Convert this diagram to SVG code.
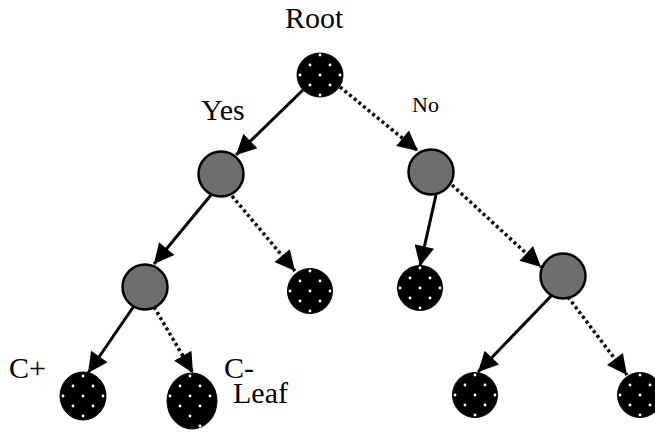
<svg xmlns="http://www.w3.org/2000/svg" xmlns:xlink="http://www.w3.org/1999/xlink" width="655" height="433" viewBox="0 0 655 433">
<style>
.lbl{font-family:"Liberation Serif","Times New Roman",serif;fill:#000}
.big{font-size:30px}
.small{font-size:22px}
.inner{fill:#6e6e6e;stroke:#000;stroke-width:2.5}
.leaf{fill:#000;stroke:#000;stroke-width:1}
.dot{fill:#fff}
.solid{stroke:#000;stroke-width:3;fill:none}
.dotted{stroke:#000;stroke-width:3.5;fill:none;stroke-dasharray:3 3}
</style>
<defs>
<marker id="ah" viewBox="0 0 10 10" refX="10" refY="5" markerUnits="userSpaceOnUse" markerWidth="22" markerHeight="20" orient="auto">
<path d="M0,0 L10,5 L0,10 Z" fill="#000"/>
</marker>
<g id="dots">
<circle class="dot" cx="0" cy="-20" r="1.4"/>
<circle class="dot" cx="-10" cy="-10" r="1.4"/>
<circle class="dot" cx="10" cy="-10" r="1.4"/>
<circle class="dot" cx="-20" cy="0" r="1.4"/>
<circle class="dot" cx="0" cy="0" r="1.4"/>
<circle class="dot" cx="20" cy="0" r="1.4"/>
<circle class="dot" cx="-10" cy="10" r="1.4"/>
<circle class="dot" cx="10" cy="10" r="1.4"/>
<circle class="dot" cx="0" cy="20" r="1.4"/>
</g>
</defs>
<g id="connectors">
<line class="solid" x1="303" y1="90" x2="236" y2="155" marker-end="url(#ah)"/>
<line class="dotted" x1="340" y1="87" x2="418" y2="151" marker-end="url(#ah)"/>
<line class="solid" x1="211" y1="195" x2="154" y2="264" marker-end="url(#ah)"/>
<line class="dotted" x1="232" y1="196" x2="295" y2="271" marker-end="url(#ah)"/>
<line class="solid" x1="436" y1="195" x2="420" y2="266" marker-end="url(#ah)"/>
<line class="dotted" x1="452" y1="185" x2="541" y2="267" marker-end="url(#ah)"/>
<line class="solid" x1="134" y1="306" x2="88" y2="373" marker-end="url(#ah)"/>
<line class="dotted" x1="154" y1="307" x2="193" y2="373" marker-end="url(#ah)"/>
<line class="solid" x1="552" y1="295" x2="478" y2="372" marker-end="url(#ah)"/>
<line class="dotted" x1="568" y1="297" x2="627" y2="375" marker-end="url(#ah)"/>
</g>
<g id="root">
<ellipse class="leaf" cx="320" cy="75" rx="23" ry="22"/>
<use xlink:href="#dots" x="320" y="75"/>
<text class="lbl big" font-family="Liberation Serif, serif" x="285" y="28">Root</text>
</g>
<g id="yes-node">
<circle class="inner" cx="221" cy="174" r="22.5"/>
<text class="lbl big" font-family="Liberation Serif, serif" x="201" y="120">Yes</text>
</g>
<g id="no-node">
<circle class="inner" cx="431" cy="172" r="22.5"/>
<text class="lbl small" font-family="Liberation Serif, serif" x="412" y="112">No</text>
</g>
<g id="yes-yes-node">
<circle class="inner" cx="145" cy="287" r="22.5"/>
</g>
<g id="yes-no-leaf">
<circle class="leaf" cx="310" cy="291" r="22.5"/>
<use xlink:href="#dots" x="310" y="291"/>
</g>
<g id="no-yes-leaf">
<circle class="leaf" cx="420" cy="288" r="22.5"/>
<use xlink:href="#dots" x="420" y="288"/>
</g>
<g id="no-no-node">
<circle class="inner" cx="563" cy="276" r="22.5"/>
</g>
<g id="cplus-leaf">
<ellipse class="leaf" cx="83" cy="396" rx="23" ry="24"/>
<use xlink:href="#dots" x="83" y="396"/>
<text class="lbl big" font-family="Liberation Serif, serif" x="9" y="378">C+</text>
</g>
<g id="cminus-leaf">
<ellipse class="leaf" cx="192" cy="401" rx="25" ry="28"/>
<use xlink:href="#dots" x="190" y="396"/>
<circle class="dot" cx="200" cy="426" r="1.4"/>
<text class="lbl big" font-family="Liberation Serif, serif" x="224" y="378">C-</text>
<text class="lbl big" font-family="Liberation Serif, serif" x="233" y="403">Leaf</text>
</g>
<g id="right-leaf-1">
<circle class="leaf" cx="475" cy="395" r="22.5"/>
<use xlink:href="#dots" x="475" y="395"/>
</g>
<g id="right-leaf-2">
<circle class="leaf" cx="640" cy="395" r="22.5"/>
<use xlink:href="#dots" x="640" y="395"/>
</g>
</svg>
